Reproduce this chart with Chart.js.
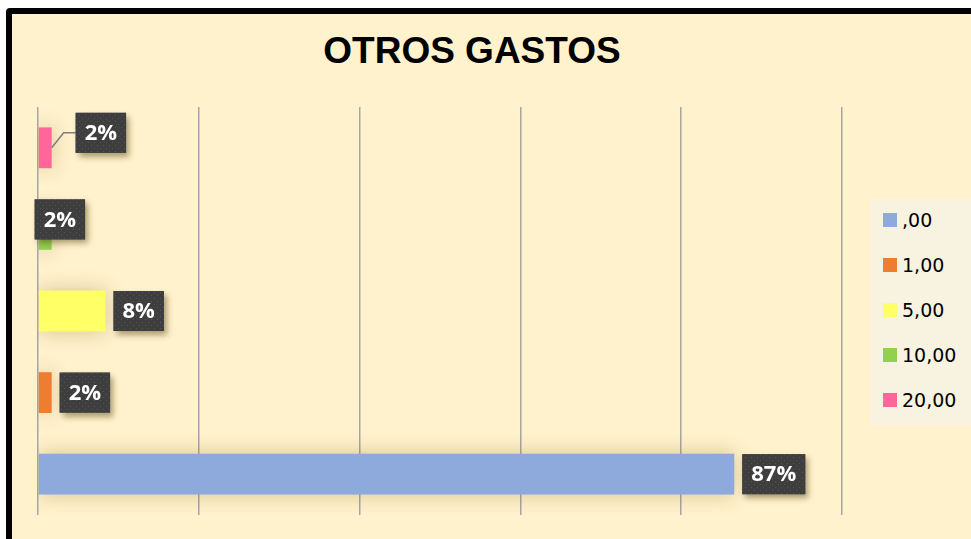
<!DOCTYPE html>
<html lang="es">
<head>
<meta charset="utf-8">
<title>Otros gastos</title>
<script src="https://cdn.jsdelivr.net/npm/chart.js@4.4.1/dist/chart.umd.min.js"></script>
<style>
    body { margin: 0; background: #fff; overflow: hidden; width: 971px; height: 539px; }
    .frame {
        position: absolute; left: 6px; top: 8px;
        width: 1000px; height: 600px;
        border: 6px solid #000; border-radius: 4px;
        background: #FFF2CC;
    }
    #chartTitle {
        position: absolute; left: 0; top: 30px; width: 944px;
        text-align: center; line-height: 40px;
        font: bold 37px "Liberation Sans", Arial, sans-serif; color: #000;
    }
    #chartLegend {
        position: absolute; left: 870px; top: 199px; width: 110px; height: 226px;
        background: #F8F3E0;
    }
    .legend-item {
        position: absolute; left: 13px; height: 22px; line-height: 22px;
        display: flex; align-items: center;
        font: 19px "DejaVu Sans", sans-serif; color: #000;
    }
    .legend-box { width: 14px; height: 14px; margin-right: 5px; }
    #gastosChart { position: absolute; left: 0; top: 0; }
</style>
</head>
<body>
<div class="frame"></div>
<div id="chartTitle">OTROS GASTOS</div>
<div id="chartLegend"></div>
<canvas id="gastosChart" width="971" height="539"></canvas>

<script>
// --- DATA ---
const categories = [',00', '1,00', '5,00', '10,00', '20,00'];
const shares = [86.6, 1.7, 8.4, 1.7, 1.7];       // % of total
const barColors = ['#8EA9DB', '#ED7D31', '#FFFF66', '#92D050', '#FF6699'];
const xMax = 100;
const xStep = 20;

// dotted fill used by the data label boxes
function makeDotPattern(ctx) {
    const tile = document.createElement('canvas');
    tile.width = 6; tile.height = 6;
    const t = tile.getContext('2d');
    t.fillStyle = '#3E3E3E';
    t.fillRect(0, 0, 6, 6);
    t.fillStyle = '#555555';
    t.fillRect(1, 1, 1, 1);
    t.fillRect(4, 4, 1, 1);
    return ctx.createPattern(tile, 'repeat');
}

// --- BAR SHADOW + LABELS (Excel style dark callouts) ---
const barLabels = {
    id: 'barLabels',
    beforeDatasetsDraw(chart) {
        const ctx = chart.ctx;
        ctx.save();
        ctx.shadowColor = 'rgba(110, 80, 10, 0.3)';
        ctx.shadowBlur = 20;
    },
    afterDatasetsDraw(chart, args, opts) {
        const ctx = chart.ctx;
        ctx.restore();

        const pattern = makeDotPattern(ctx);
        const meta = chart.getDatasetMeta(0);
        ctx.save();
        ctx.font = 'bold 22px "Open Sans"';
        meta.data.forEach((bar, i) => {
            const text = Math.round(shares[i]) + '%';
            const w = ctx.measureText(text).width + 18;
            const h = 40;
            const nudge = opts.nudges[i] || { dx: 0, dy: 0 };
            const left = bar.x + 8 + nudge.dx;
            const cy = bar.y + nudge.dy;

            if (nudge.leader) {
                ctx.strokeStyle = '#7F7F7F';
                ctx.lineWidth = 1.5;
                ctx.beginPath();
                ctx.moveTo(bar.x, bar.y);
                ctx.lineTo(left - 12, cy);
                ctx.lineTo(left, cy);
                ctx.stroke();
            }

            ctx.save();
            ctx.shadowColor = 'rgba(70, 50, 0, 0.45)';
            ctx.shadowBlur = 6;
            ctx.shadowOffsetX = 3;
            ctx.shadowOffsetY = 4;
            ctx.fillStyle = '#404040';
            ctx.fillRect(left, cy - h / 2, w, h);
            ctx.restore();
            ctx.fillStyle = pattern;
            ctx.fillRect(left, cy - h / 2, w, h);

            ctx.fillStyle = '#fff';
            ctx.textAlign = 'center';
            ctx.textBaseline = 'middle';
            ctx.fillText(text, left + w / 2, cy + 1);
        });
        ctx.restore();
    }
};

document.addEventListener("DOMContentLoaded", () => {
    // Legend
    const legend = document.getElementById('chartLegend');
    categories.forEach((cat, i) => {
        const item = document.createElement('div');
        item.className = 'legend-item';
        item.style.top = (10 + 45 * i) + 'px';
        item.innerHTML = `<span class="legend-box" style="background:${barColors[i]}"></span>${cat}`;
        legend.appendChild(item);
    });

    new Chart(document.getElementById('gastosChart'), {
        type: 'bar',
        data: {
            labels: categories,
            datasets: [{
                data: shares,
                backgroundColor: barColors,
                barPercentage: 0.5,
                categoryPercentage: 1.0
            }]
        },
        options: {
            indexAxis: 'y',
            responsive: false,
            animation: false,
            layout: { padding: { left: 38, right: 129, top: 107, bottom: 24 } },
            scales: {
                x: {
                    min: 0,
                    max: xMax,
                    ticks: { display: false, stepSize: xStep },
                    grid: { color: '#A5A5A5', lineWidth: 1.5, drawTicks: false },
                    border: { display: false }
                },
                y: { display: false, reverse: true }
            },
            plugins: {
                legend: { display: false },
                tooltip: { enabled: false },
                barLabels: {
                    nudges: {
                        3: { dx: -25, dy: -10 },
                        4: { dx: 16, dy: -15, leader: true }
                    }
                }
            }
        },
        plugins: [barLabels]
    });
});
</script>
</body>
</html>
